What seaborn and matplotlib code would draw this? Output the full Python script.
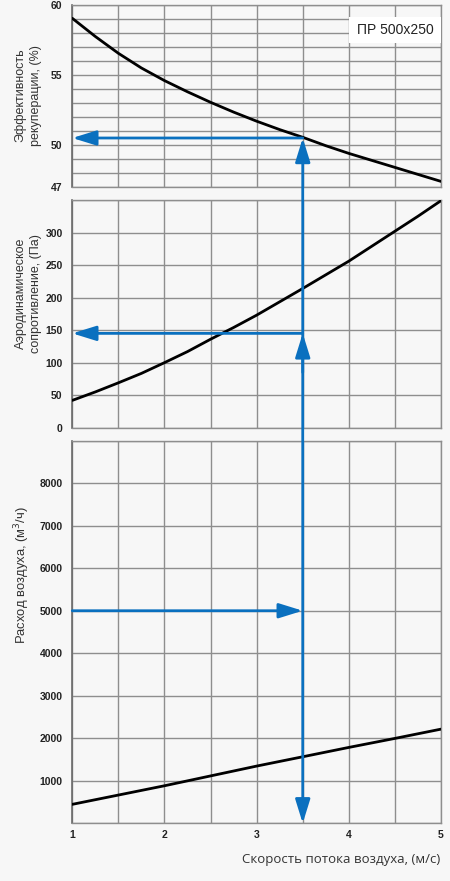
import matplotlib
matplotlib.use("Agg")
import matplotlib.pyplot as plt
from matplotlib.patches import ConnectionPatch, Rectangle
import numpy as np
import pandas as pd
import seaborn as sns

# ---------------- data ----------------
speed = [1.0, 1.25, 1.5, 1.75, 2.0, 2.25, 2.5, 2.75, 3.0,
         3.25, 3.5, 3.75, 4.0, 4.25, 4.5, 4.75, 5.0]
efficiency = [59.05, 57.75, 56.55, 55.5, 54.6, 53.8, 53.05, 52.35, 51.7,
              51.1, 50.55, 49.95, 49.4, 48.9, 48.4, 47.9, 47.4]
pressure = [42, 55, 69, 83.5, 100, 117, 136, 154, 173,
            193.5, 214, 235, 256, 279, 302, 325, 349]
flow_speed = [1.0, 2.0, 3.0, 3.5, 4.0, 4.5, 5.0]
flow = [446, 883, 1346, 1565, 1785, 1997, 2215]

x_ticks = [1, 2, 3, 4, 5]
eff_ticks = [47, 50, 55, 60]
press_ticks = [0, 50, 100, 150, 200, 250, 300]
flow_ticks = [1000, 2000, 3000, 4000, 5000, 6000, 7000, 8000]

example_speed = 3.5
example_eff = 50.5
example_press = 145
example_flow = 5000

model_label = "ПР 500x250"
eff_label = "Эффективность\nрекуперации, (%)"
press_label = "Аэродинамическое\nсопротивление, (Па)"
flow_label = "Расход воздуха, (м$^3$/ч)"
x_label = "Скорость потока воздуха, (м/с)"

# ---------------- style ----------------
BG = "#f7f7f7"
GRID = "#8e8e8e"
BLUE = "#0a70bf"
sns.set_theme(style="white", rc={"axes.facecolor": BG, "figure.facecolor": BG})
plt.rcParams["font.family"] = ["Liberation Sans", "DejaVu Sans"]

fig = plt.figure(figsize=(4.5, 8.81), dpi=100)
L, W = 72.3 / 450, 368.7 / 450
H = 881.0
ax_eff = fig.add_axes([L, 1 - 187 / H, W, 182 / H])
ax_prs = fig.add_axes([L, 1 - 427.7 / H, W, 227.7 / H])
ax_flw = fig.add_axes([L, 1 - 823.3 / H, W, 382.6 / H])

df_eff = pd.DataFrame({"v": speed, "e": efficiency})
df_prs = pd.DataFrame({"v": speed, "p": pressure})
df_flw = pd.DataFrame({"v": flow_speed, "q": flow})

sns.lineplot(data=df_eff, x="v", y="e", ax=ax_eff, color="black", lw=2.0, zorder=5)
sns.lineplot(data=df_prs, x="v", y="p", ax=ax_prs, color="black", lw=2.0, zorder=5)
sns.lineplot(data=df_flw, x="v", y="q", ax=ax_flw, color="black", lw=2.0, zorder=5)

def style_axes(ax, ylim, yticks, yminor, show_x):
    ax.set_xlim(1, 5)
    ax.set_ylim(*ylim)
    ax.set_xticks(x_ticks)
    ax.set_xticks(np.arange(1.5, 5, 1.0), minor=True)
    ax.set_yticks(yticks)
    ax.set_yticks(yminor, minor=True)
    ax.grid(True, which="both", color=GRID, lw=1.0, zorder=1)
    ax.set_axisbelow(True)
    ax.tick_params(which="both", length=0)
    ax.tick_params(axis="y", pad=7, labelsize=7.5, labelcolor="#222222")
    for lab in ax.get_yticklabels():
        lab.set_fontweight("bold")
    if show_x:
        ax.tick_params(axis="x", pad=5, labelsize=7.5, labelcolor="#222222")
        for lab in ax.get_xticklabels():
            lab.set_fontweight("bold")
    else:
        ax.set_xticklabels([])
    for s in ["top", "right", "bottom"]:
        ax.spines[s].set_visible(True)
        ax.spines[s].set_color(GRID)
        ax.spines[s].set_linewidth(1.0)
    ax.spines["left"].set_color("#6a6a6a")
    ax.spines["left"].set_linewidth(1.2)
    ax.set_xlabel("")
    ax.set_ylabel("")

style_axes(ax_eff, (47, 60), eff_ticks, np.arange(47, 61, 1), False)
style_axes(ax_prs, (0, 350), press_ticks, [350], False)
style_axes(ax_flw, (0, 9000), flow_ticks, [0, 9000], True)

# y labels (coords give the right-hand edge of the rotated text block)
for ax, txt, ypos, xpos, fs in [(ax_eff, eff_label, 0.505, -0.083, 9),
                                (ax_prs, press_label, 0.59, -0.083, 9),
                                (ax_flw, flow_label, 0.649, -0.11, 9.4)]:
    ax.set_ylabel(txt, fontsize=fs, color="#333333", linespacing=1.35)
    ax.yaxis.set_label_coords(xpos, ypos)

ax_flw.set_xlabel(x_label, fontsize=9.5, color="#333333", family=["Open Sans", "DejaVu Sans"])
ax_flw.xaxis.set_label_coords(0.997, -0.078)
ax_flw.xaxis.label.set_ha("right")

# model box
ax_eff.add_patch(Rectangle((0.75, 0.791), 0.25, 0.143, transform=ax_eff.transAxes,
                           facecolor="white", edgecolor="none", zorder=3))
ax_eff.text(0.875, 0.862, model_label, transform=ax_eff.transAxes, ha="center",
            va="center", fontsize=10, color="#222222", zorder=4)

# arrows
aprops = dict(arrowstyle="-|>,head_length=1.45,head_width=0.45", color=BLUE,
              lw=2.0, mutation_scale=10, shrinkA=0, shrinkB=0)

ax_eff.annotate("", xy=(1, example_eff), xytext=(example_speed, example_eff),
                arrowprops=aprops, annotation_clip=False, zorder=6)
ax_prs.annotate("", xy=(1, example_press), xytext=(example_speed, example_press),
                arrowprops=aprops, annotation_clip=False, zorder=6)
ax_prs.annotate("", xy=(example_speed, example_press), xytext=(example_speed, example_press - 60),
                arrowprops=aprops, annotation_clip=False, zorder=6)
ax_flw.annotate("", xy=(example_speed, example_flow), xytext=(1, example_flow),
                arrowprops=aprops, annotation_clip=False, zorder=6)

con = ConnectionPatch(xyA=(example_speed, 0), coordsA=ax_flw.transData,
                      xyB=(example_speed, example_eff), coordsB=ax_eff.transData,
                      arrowstyle="<|-|>,head_length=1.45,head_width=0.45",
                      color=BLUE, lw=2.0, mutation_scale=10, shrinkA=0, shrinkB=0,
                      zorder=6)
fig.add_artist(con)

fig.savefig("out.png", dpi=100, facecolor=BG)
